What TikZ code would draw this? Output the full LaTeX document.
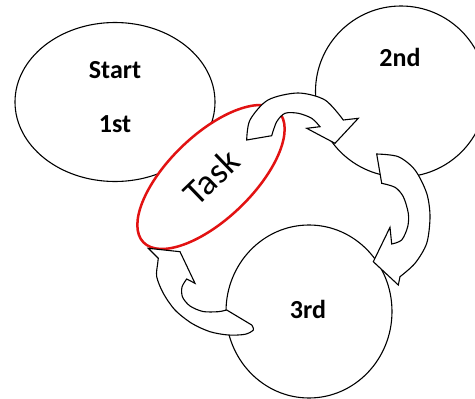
\documentclass[tikz,border=0pt]{standalone}
\usepackage{fontspec}
\setmainfont{Carlito}
\usetikzlibrary{shapes.geometric}
\definecolor{taskred}{RGB}{226,18,18}
\begin{document}
\begin{tikzpicture}[x=1pt,y=-1pt,
  blob/.style={draw=black, line width=1.1pt, fill=white, inner sep=0pt},
  lbl/.style={font=\bfseries\fontsize{26}{30}\selectfont, inner sep=0pt},
  barrow/.style={draw=black, line width=1.1pt, fill=white, line join=miter}]
\useasboundingbox (0,0) rectangle (475,399);
% bubbles
\node[blob, ellipse, minimum width=200pt, minimum height=159pt] (start) at (115,102) {};
\node[blob, circle, minimum size=171pt] (second) at (401,91.5) {};
\node[blob, ellipse, minimum width=166pt, minimum height=173pt] (third) at (309,311.5) {};
\node[ellipse, draw=taskred, line width=2.5pt, fill=white, inner sep=0pt,
      minimum width=188pt, minimum height=84pt, rotate=44,
      font=\fontsize{36}{40}\selectfont] (task) at (211,177) {Task};
% labels
\node[lbl] (tstart) at (115,70) {Start};
\node[lbl] (tfirst) at (115,124) {1st};
\node[lbl] (tsecond) at (400,57) {2nd};
\node[lbl] (tthird) at (308,309) {3rd};
% curved block arrows
\filldraw[barrow] plot[smooth] coordinates {(246.7,140) (250,120) (268,100) (298,93) (325,100) (343.3,120)}
  -- (358.3,118.3) -- (335,143.3) -- (306.7,128.3) -- (320,126.7)
  -- plot[smooth] coordinates {(320,126.7) (311.7,118.3) (298.3,113.3) (285,113.3) (276.7,121.7) (271.7,135.7)}
  -- cycle;
\filldraw[barrow] plot[smooth] coordinates {(376.7,154) (398.3,156.7) (415,170) (426.7,193.3) (430,216.7) (426.7,243.3) (415,263.3) (400,276.7)}
  -- (398.3,285) -- (373.3,261.7) -- (390,227.3) -- (391.7,244)
  -- plot[smooth] coordinates {(391.7,244) (401.7,240) (407.7,226.7) (408.3,213.3) (403.3,196.7) (395,187.3) (381.7,183.3)}
  -- cycle;
\filldraw[barrow] plot[smooth] coordinates {(251.7,325) (253.3,330) (245,334.3) (228.3,335) (210,331.7) (191.7,323.3) (175,310) (163.3,293.3) (156.7,276.7) (157.7,263.3) (158.3,258.3)}
  -- (148.3,248.3) -- (180,251.7) -- (195,283.3) -- (186.7,279)
  -- plot[smooth] coordinates {(186.7,279) (182,287) (182.5,297) (190,306) (203,311.5) (218,311.7) (226.7,310)}
  -- cycle;
\end{tikzpicture}
\end{document}
